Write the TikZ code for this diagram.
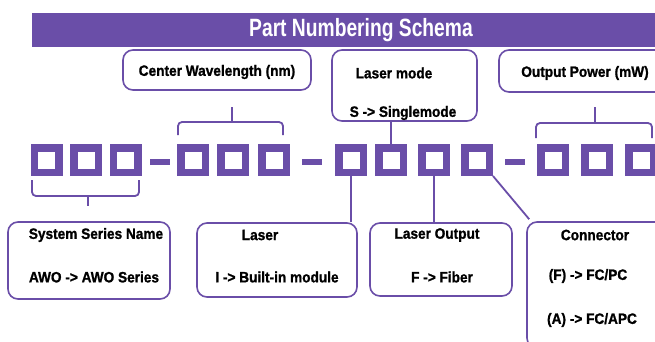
\documentclass[tikz,border=0pt]{standalone}
\usepackage{fontspec}
\setmainfont{Liberation Sans}
\newfontfamily\lblfont[FakeBold=1.2]{Liberation Sans}
\definecolor{pp}{RGB}{106,78,168}
\newcommand{\tx}[1]{\scalebox{0.91}[1]{#1}}
\begin{document}
\begin{tikzpicture}[x=1pt,y=-1pt,
  sq/.style={draw=pp, line width=7.5pt, fill=white, minimum size=24.5pt, inner sep=0pt},
  bx/.style={draw=pp, line width=1.6pt, rounded corners=10pt, inner sep=0pt},
  lbl/.style={font=\lblfont\bfseries\fontsize{15}{18}\selectfont, inner sep=0pt, text=black},
  conn/.style={draw=pp, line width=1.8pt},
  brk/.style={draw=pp, line width=1.8pt, rounded corners=4pt},
  dsh/.style={fill=pp, minimum width=20pt, minimum height=6pt, inner sep=0pt},
  titlebar/.style={fill=pp, minimum width=658pt, minimum height=34pt, inner sep=0pt,
    text=white, font=\fontsize{25}{28}\selectfont\bfseries}]
\useasboundingbox (0,0) rectangle (655,341);
\clip (0,0) rectangle (655,341);
\fill[white] (0,0) rectangle (655,341);

% title
\node[titlebar] (title) at (361,30) {\scalebox{0.77}[1]{Part Numbering Schema}};

% squares
\foreach \n/\x in {1/46.5,2/86,3/125.5,4/193,5/233,6/274,7/351,8/391,9/434,10/477,11/553,12/597,13/641}
  \node[sq] (s\n) at (\x,160) {};
\node[dsh] (d1) at (160,162) {};
\node[dsh] (d2) at (312,162) {};
\node[dsh] (d3) at (515,162) {};

% top boxes
\node[bx, minimum width=188pt, minimum height=40pt] (cw) at (217,70) {};
\node[lbl] (cwt) at (217,72) {\tx{Center Wavelength (nm)}};
\node[bx, minimum width=145pt, minimum height=71pt] (lm) at (404.5,85.5) {};
\node[lbl] (lmt1) at (394,73) {\tx{Laser mode}};
\node[lbl] (lmt2) at (403,113) {\tx{S -> Singlemode}};
\node[bx, minimum width=190pt, minimum height=42pt] (op) at (594,71) {};
\node[lbl] (opt) at (585,73) {\tx{Output Power (mW)}};

% bottom boxes
\node[bx, minimum width=162pt, minimum height=77pt] (ssn) at (89,260.5) {};
\node[lbl] (ssn1) at (96,235) {\tx{System Series Name}};
\node[lbl] (ssn2) at (94,277) {\tx{AWO -> AWO Series}};
\node[bx, minimum width=160pt, minimum height=74pt] (las) at (277,260) {};
\node[lbl] (las1) at (260,235) {\tx{Laser}};
\node[lbl] (las2) at (277,277) {\tx{I -> Built-in module}};
\node[bx, minimum width=142pt, minimum height=73pt] (lo) at (441,259.5) {};
\node[lbl] (lo1) at (437,235) {\tx{Laser Output}};
\node[lbl] (lo2) at (442,277) {\tx{F -> Fiber}};
\node[bx, minimum width=173pt, minimum height=126pt] (con) at (613.5,285) {};
\node[lbl] (con1) at (595,235) {\tx{Connector}};
\node[lbl] (con2) at (588,276) {\tx{(F) -> FC/PC}};
\node[lbl] (con3) at (592,320) {\tx{(A) -> FC/APC}};

% brackets
\draw[brk] (32,180) -- (32,196) -- (139,196) -- (139,180);
\coordinate (b1e) at (88,206);
\draw[conn] (88,196) -- (b1e);
\draw[brk] (178,135) -- (178,122) -- (283,122) -- (283,135);
\coordinate (b2e) at (232,107);
\draw[conn] (232,122) -- (b2e);
\draw[brk] (536,138) -- (536,123) -- (652,123) -- (652,138);
\coordinate (b4e) at (595,107);
\draw[conn] (595,123) -- (b4e);

% connectors
\draw[conn] (s8.north) -- (s8.north |- lm.south);
\draw[conn] (s7.south) -- (s7.south |- las.north);
\draw[conn] (s9.south) -- (s9.south |- lo.north);
\draw[conn] (s10.south east) -- ([xshift=3pt,yshift=2pt]con.north west);
\end{tikzpicture}
\end{document}
